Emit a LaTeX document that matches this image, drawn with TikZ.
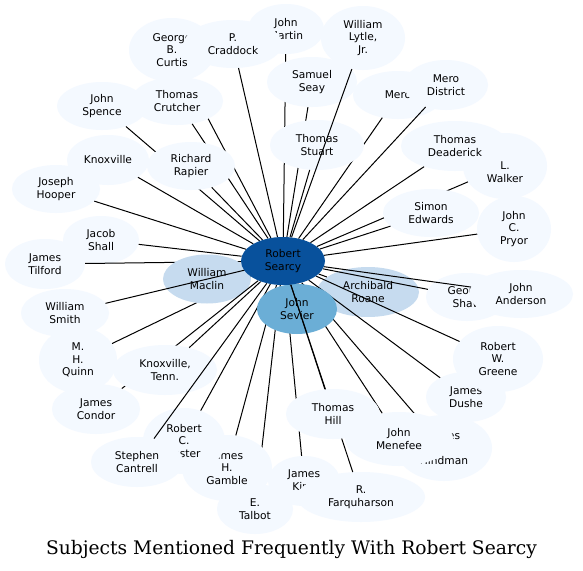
\documentclass[tikz,border=0pt]{standalone}
\usepackage{fontspec}
\setmainfont{DejaVu Sans}
\newfontfamily\titlefont{DejaVu Serif}
\usetikzlibrary{shapes.geometric}
\definecolor{lt}{HTML}{F4F9FF}
\definecolor{mid}{HTML}{C6DBEF}
\definecolor{sev}{HTML}{6BAED6}
\definecolor{dk}{HTML}{08519C}
\pgfdeclarelayer{front}
\pgfsetlayers{main,front}
\tikzset{
  nd/.style={ellipse, inner sep=0pt, align=center, font=\fontsize{10.67}{12.5}\selectfont, text=black},
  lite/.style={nd, fill=lt},
  con/.style={draw=black, line width=1pt},
}
% style, name, x, y, width, height, label ; then edge from centre
\newcommand\gnode[7]{%
  \node[#1, minimum width=#5pt, minimum height=#6pt] (#2) at (#3,#4) {#7};
  \draw[con] (c) -- (#2);
}
\begin{document}
\begin{tikzpicture}[x=1pt,y=-1pt]
\useasboundingbox[fill=white] (0,0) rectangle (583,570);
\begin{pgfonlayer}{front}
\node[nd, fill=dk, minimum width=84pt, minimum height=48pt] (c) at (283,261) {Robert\\Searcy};
\end{pgfonlayer}
\gnode{lite}{martin}{286}{29}{76}{50}{John\\Martin}
\gnode{lite}{curtis}{172}{50}{86}{64}{George\\B.\\Curtis}
\gnode{lite}{craddock}{233}{44}{98}{48}{P.\\Craddock}
\gnode{lite}{seay}{312}{82}{90}{50}{Samuel\\Seay}
\gnode{lite}{mero}{398}{95}{90}{48}{Mero}
\gnode{lite}{merod}{446}{85}{84}{50}{Mero\\District}
\gnode{lite}{stuart}{317}{145}{94}{50}{Thomas\\Stuart}
\gnode{lite}{lytle}{363}{38}{84}{64}{William\\Lytle,\\Jr.}
\gnode{lite}{crutcher}{177}{101}{92}{48}{Thomas\\Crutcher}
\gnode{lite}{spence}{102}{106}{90}{48}{John\\Spence}
\gnode{lite}{rapier}{191}{166}{88}{48}{Richard\\Rapier}
\gnode{lite}{knox}{108}{160}{82}{50}{Knoxville}
\gnode{lite}{hooper}{56}{189}{88}{48}{Joseph\\Hooper}
\gnode{lite}{walker}{505}{166}{84}{66}{\phantom{H.}\\L.\\Walker}
\gnode{lite}{deaderick}{455}{146}{108}{50}{Thomas\\Deaderick}
\gnode{lite}{edwards}{431}{213}{96}{48}{Simon\\Edwards}
\gnode{lite}{pryor}{514}{229}{74}{66}{John\\C.\\Pryor}
\gnode{lite}{shall}{101}{240}{76}{48}{Jacob\\Shall}
\gnode{lite}{tilford}{45}{264}{80}{50}{James\\Tilford}
\gnode{lite}{quinn}{78}{360}{78}{66}{M.\\H.\\Quinn}
\gnode{nd,fill=mid}{maclin}{207}{279}{88}{49}{William\\Maclin}
\gnode{lite}{smith}{65}{313}{88}{48}{William\\Smith}
\gnode{lite}{condor}{96}{409}{88}{50}{James\\Condor}
\gnode{lite}{knoxtenn}{165}{370}{104}{50}{Knoxville,\\Tenn.}
\gnode{lite}{talbot}{255}{509}{76}{50}{E.\\Talbot}
\gnode{lite}{gamble}{227}{468}{90}{66}{James\\H.\\Gamble}
\gnode{lite}{foster}{184}{441}{82}{66}{Robert\\C.\\Foster}
\gnode{lite}{cantrell}{137}{462}{92}{50}{Stephen\\Cantrell}
\gnode{lite}{king}{304}{481}{72}{50}{James\\King}
\gnode{lite}{hindman}{444}{448}{96}{66}{James\\P.\\Hindman}
\gnode{lite}{menefee}{399}{439}{108}{54}{John\\Menefee}
\gnode{nd,fill=mid}{roane}{368}{292}{102}{50}{Archibald\\Roane}
\gnode{lite}{dushe}{466}{397}{80}{50}{James\\Dushe}
\gnode{lite}{greene}{498}{359}{90}{66}{Robert\\W.\\Greene}
\gnode{lite}{shaw}{467}{297}{82}{48}{George\\Shaw}
\gnode{lite}{anderson}{521}{294}{104}{48}{John\\Anderson}
\gnode{nd,fill=sev}{sevier}{297}{309}{80}{50}{John\\Sevier}
\gnode{lite}{farq}{361}{497}{128}{50}{R.\\Farquharson}
\gnode{lite}{hill}{333}{414}{94}{50}{Thomas\\Hill}
\node[font=\titlefont\fontsize{18.67}{22}\selectfont] (title) at (291.5,549) {Subjects Mentioned Frequently With Robert Searcy};
\end{tikzpicture}
\end{document}
